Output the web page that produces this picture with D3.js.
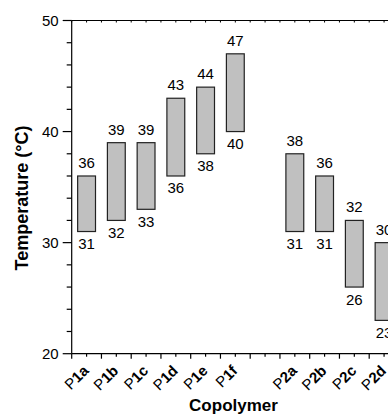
<!DOCTYPE html>
<html>
<head>
<meta charset="utf-8">
<script src="https://cdn.jsdelivr.net/npm/d3@7"></script>
<style>
  body { margin: 0; background: #fff; }
  svg { display: block; }
  svg text { font-family: "Liberation Sans", Arial, Helvetica, sans-serif; }
</style>
</head>
<body>
<div id="chart"></div>
<script>
// data
var copolymers = ["P1a", "P1b", "P1c", "P1d", "P1e", "P1f", "P2a", "P2b", "P2c", "P2d"];
var lowTemp  = [31, 32, 33, 36, 38, 40, 31, 31, 26, 23];
var highTemp = [36, 39, 39, 43, 44, 47, 38, 36, 32, 30];
var yTicks = [20, 30, 40, 50];

var W = 388, H = 415;
var margin = {top: 20.5, left: 71.7, bottom: 61.3};

var svg = d3.select("#chart")
  .append("svg")
  .attr("width", W)
  .attr("height", H);

// slot along x: one empty slot between the P1 and P2 series
var slot = [];
var s = 0;
copolymers.forEach(function(c, i) {
  if (i > 0 && c.slice(0, 2) != copolymers[i - 1].slice(0, 2)) s++;
  slot.push(s + i + 0.5);
});

var data = copolymers.map(function(c, i) {
  return {name: c, pos: slot[i], lo: lowTemp[i], hi: highTemp[i]};
});

// scales (the plot runs past the right edge of the window)
var x = d3.scaleLinear()
  .domain([0, 11])
  .range([margin.left, margin.left + 11 * 29.75]);

var y = d3.scaleLinear()
  .domain([20, 50])
  .range([H - margin.bottom, margin.top]);

var x0 = x(0), x1 = x(11), yb = y(20), yt = y(50);

// frame lines
svg.append("line").attr("x1", x0).attr("x2", x1).attr("y1", yt).attr("y2", yt)
  .attr("stroke", "#000").attr("stroke-width", 1.2);
svg.append("line").attr("x1", x0).attr("x2", x1).attr("y1", yb).attr("y2", yb)
  .attr("stroke", "#000").attr("stroke-width", 1.2);
svg.append("line").attr("x1", x0).attr("x2", x0).attr("y1", yt).attr("y2", yb)
  .attr("stroke", "#000").attr("stroke-width", 1.2);

// Y axis ticks, major every 10, minor every 2
var yAll = d3.range(20, 50.01, 2);
svg.append("g").selectAll("line")
  .data(yAll)
  .enter().append("line")
  .attr("x1", function(d) { return d % 10 == 0 ? x0 - 9 : x0 - 5; })
  .attr("x2", x0)
  .attr("y1", function(d) { return y(d); })
  .attr("y2", function(d) { return y(d); })
  .attr("stroke", "#000")
  .attr("stroke-width", 1.2);

svg.append("g").selectAll("text")
  .data(yTicks)
  .enter().append("text")
  .attr("x", x0 - 13)
  .attr("y", function(d) { return y(d); })
  .attr("dy", "0.36em")
  .attr("text-anchor", "end")
  .style("font-size", "15px")
  .attr("fill", "#000")
  .text(function(d) { return d; });

// X axis ticks, major at integers, minor at halves
var xAll = d3.range(0, 11.01, 0.5);
svg.append("g").selectAll("line")
  .data(xAll)
  .enter().append("line")
  .attr("x1", function(d) { return x(d); })
  .attr("x2", function(d) { return x(d); })
  .attr("y1", yb)
  .attr("y2", function(d) { return d % 1 == 0 ? yb + 5 : yb + 3; })
  .attr("stroke", "#000")
  .attr("stroke-width", 1.2);

// small inward ticks on the top line
svg.append("g").selectAll("line")
  .data(xAll)
  .enter().append("line")
  .attr("x1", function(d) { return x(d); })
  .attr("x2", function(d) { return x(d); })
  .attr("y1", yt)
  .attr("y2", yt + 2)
  .attr("stroke", "#000")
  .attr("stroke-width", 1);

// x tick labels, rotated
var xl = svg.append("g").selectAll("text")
  .data(data)
  .enter().append("text")
  .attr("text-anchor", "end")
  .attr("transform", function(d) { return "translate(" + (x(d.pos) + 3) + "," + (yb + 18) + ")rotate(-45)"; })
  .style("font-size", "15px")
  .attr("fill", "#000");
xl.append("tspan").text(function(d) { return d.name.charAt(0); });
xl.append("tspan").style("font-weight", "bold").text(function(d) { return d.name.slice(1); });

// Bars from low to high temperature
var bw = x(0.6) - x(0);
svg.append("g").selectAll("rect")
  .data(data)
  .enter().append("rect")
  .attr("x", function(d) { return x(d.pos) - bw / 2; })
  .attr("y", function(d) { return y(d.hi); })
  .attr("width", bw)
  .attr("height", function(d) { return y(d.lo) - y(d.hi); })
  .attr("fill", "#c0c0c0")
  .attr("stroke", "#222")
  .attr("stroke-width", 1.2);

// value labels
svg.append("g").selectAll("text")
  .data(data)
  .enter().append("text")
  .attr("x", function(d) { return x(d.pos); })
  .attr("y", function(d) { return y(d.hi) - 8; })
  .attr("text-anchor", "middle")
  .style("font-size", "15px")
  .attr("fill", "#000")
  .text(function(d) { return d.hi; });

svg.append("g").selectAll("text")
  .data(data)
  .enter().append("text")
  .attr("x", function(d) { return x(d.pos); })
  .attr("y", function(d) { return y(d.lo) + 17.5; })
  .attr("text-anchor", "middle")
  .style("font-size", "15px")
  .attr("fill", "#000")
  .text(function(d) { return d.lo; });

// Y label
svg.append("text")
  .attr("text-anchor", "middle")
  .attr("transform", "translate(28,198)rotate(-90)")
  .style("font-size", "18px")
  .style("font-weight", "bold")
  .attr("fill", "#000")
  .text("Temperature (\u00B0C)");

// X label
svg.append("text")
  .attr("x", 233.5)
  .attr("y", 411)
  .attr("text-anchor", "middle")
  .style("font-size", "17px")
  .style("font-weight", "bold")
  .attr("fill", "#000")
  .text("Copolymer");
</script>
</body>
</html>
